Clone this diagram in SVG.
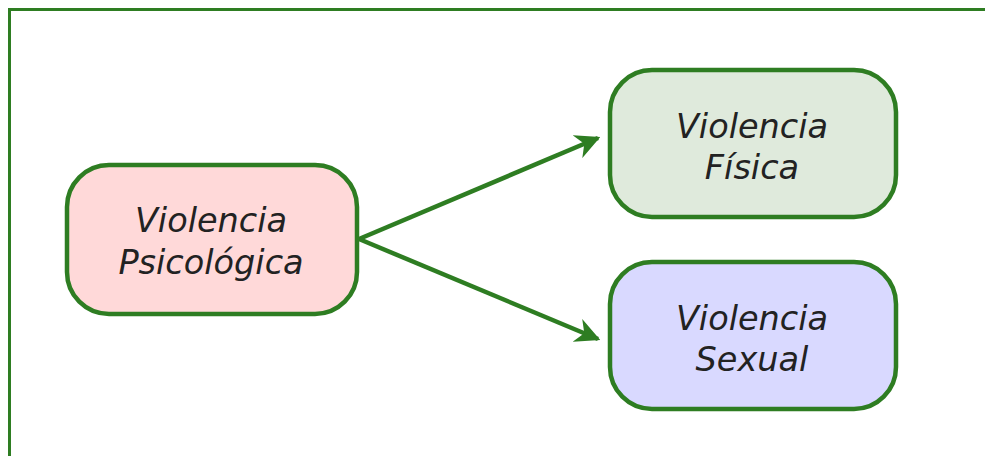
<svg xmlns="http://www.w3.org/2000/svg" width="985" height="456" viewBox="0 0 985 456">
<defs>
<style>
.node rect{stroke:#2e7d22;stroke-width:4.5}
.node text{font-family:"DejaVu Sans",Verdana,sans-serif;font-style:italic;font-size:33.5px;fill:#222;text-anchor:middle}
.edge{stroke:#2e7d22;stroke-width:4.5;fill:none}
</style>
<marker id="ah" viewBox="0 0 10 10" refX="9" refY="5" markerWidth="5.5" markerHeight="5.5" markerUnits="strokeWidth" orient="auto">
<path d="M0,0 L10,5 L0,10 L3,5 Z" fill="#2e7d22"/>
</marker>
</defs>
<rect x="0" y="0" width="985" height="456" fill="#fff"/>
<path d="M9.5,460 V9.5 H990" fill="none" stroke="#2e7d22" stroke-width="3"/>
<g id="connectors">
<line class="edge" x1="359" y1="239" x2="598" y2="138" marker-end="url(#ah)"/>
<line class="edge" x1="359" y1="239" x2="598" y2="339" marker-end="url(#ah)"/>
</g>
<g id="psicologica" class="node">
<rect x="67" y="165" width="290" height="149" rx="42" fill="#ffd9d9"/>
<text x="211" y="232">Violencia</text>
<text x="211" y="274">Psicológica</text>
</g>
<g id="fisica" class="node">
<rect x="610" y="70" width="286" height="147" rx="42" fill="#dfeadc"/>
<text x="752" y="138">Violencia</text>
<text x="752" y="179">Física</text>
</g>
<g id="sexual" class="node">
<rect x="610" y="262" width="286" height="147" rx="42" fill="#d9d9ff"/>
<text x="752" y="330">Violencia</text>
<text x="752" y="371">Sexual</text>
</g>
</svg>
